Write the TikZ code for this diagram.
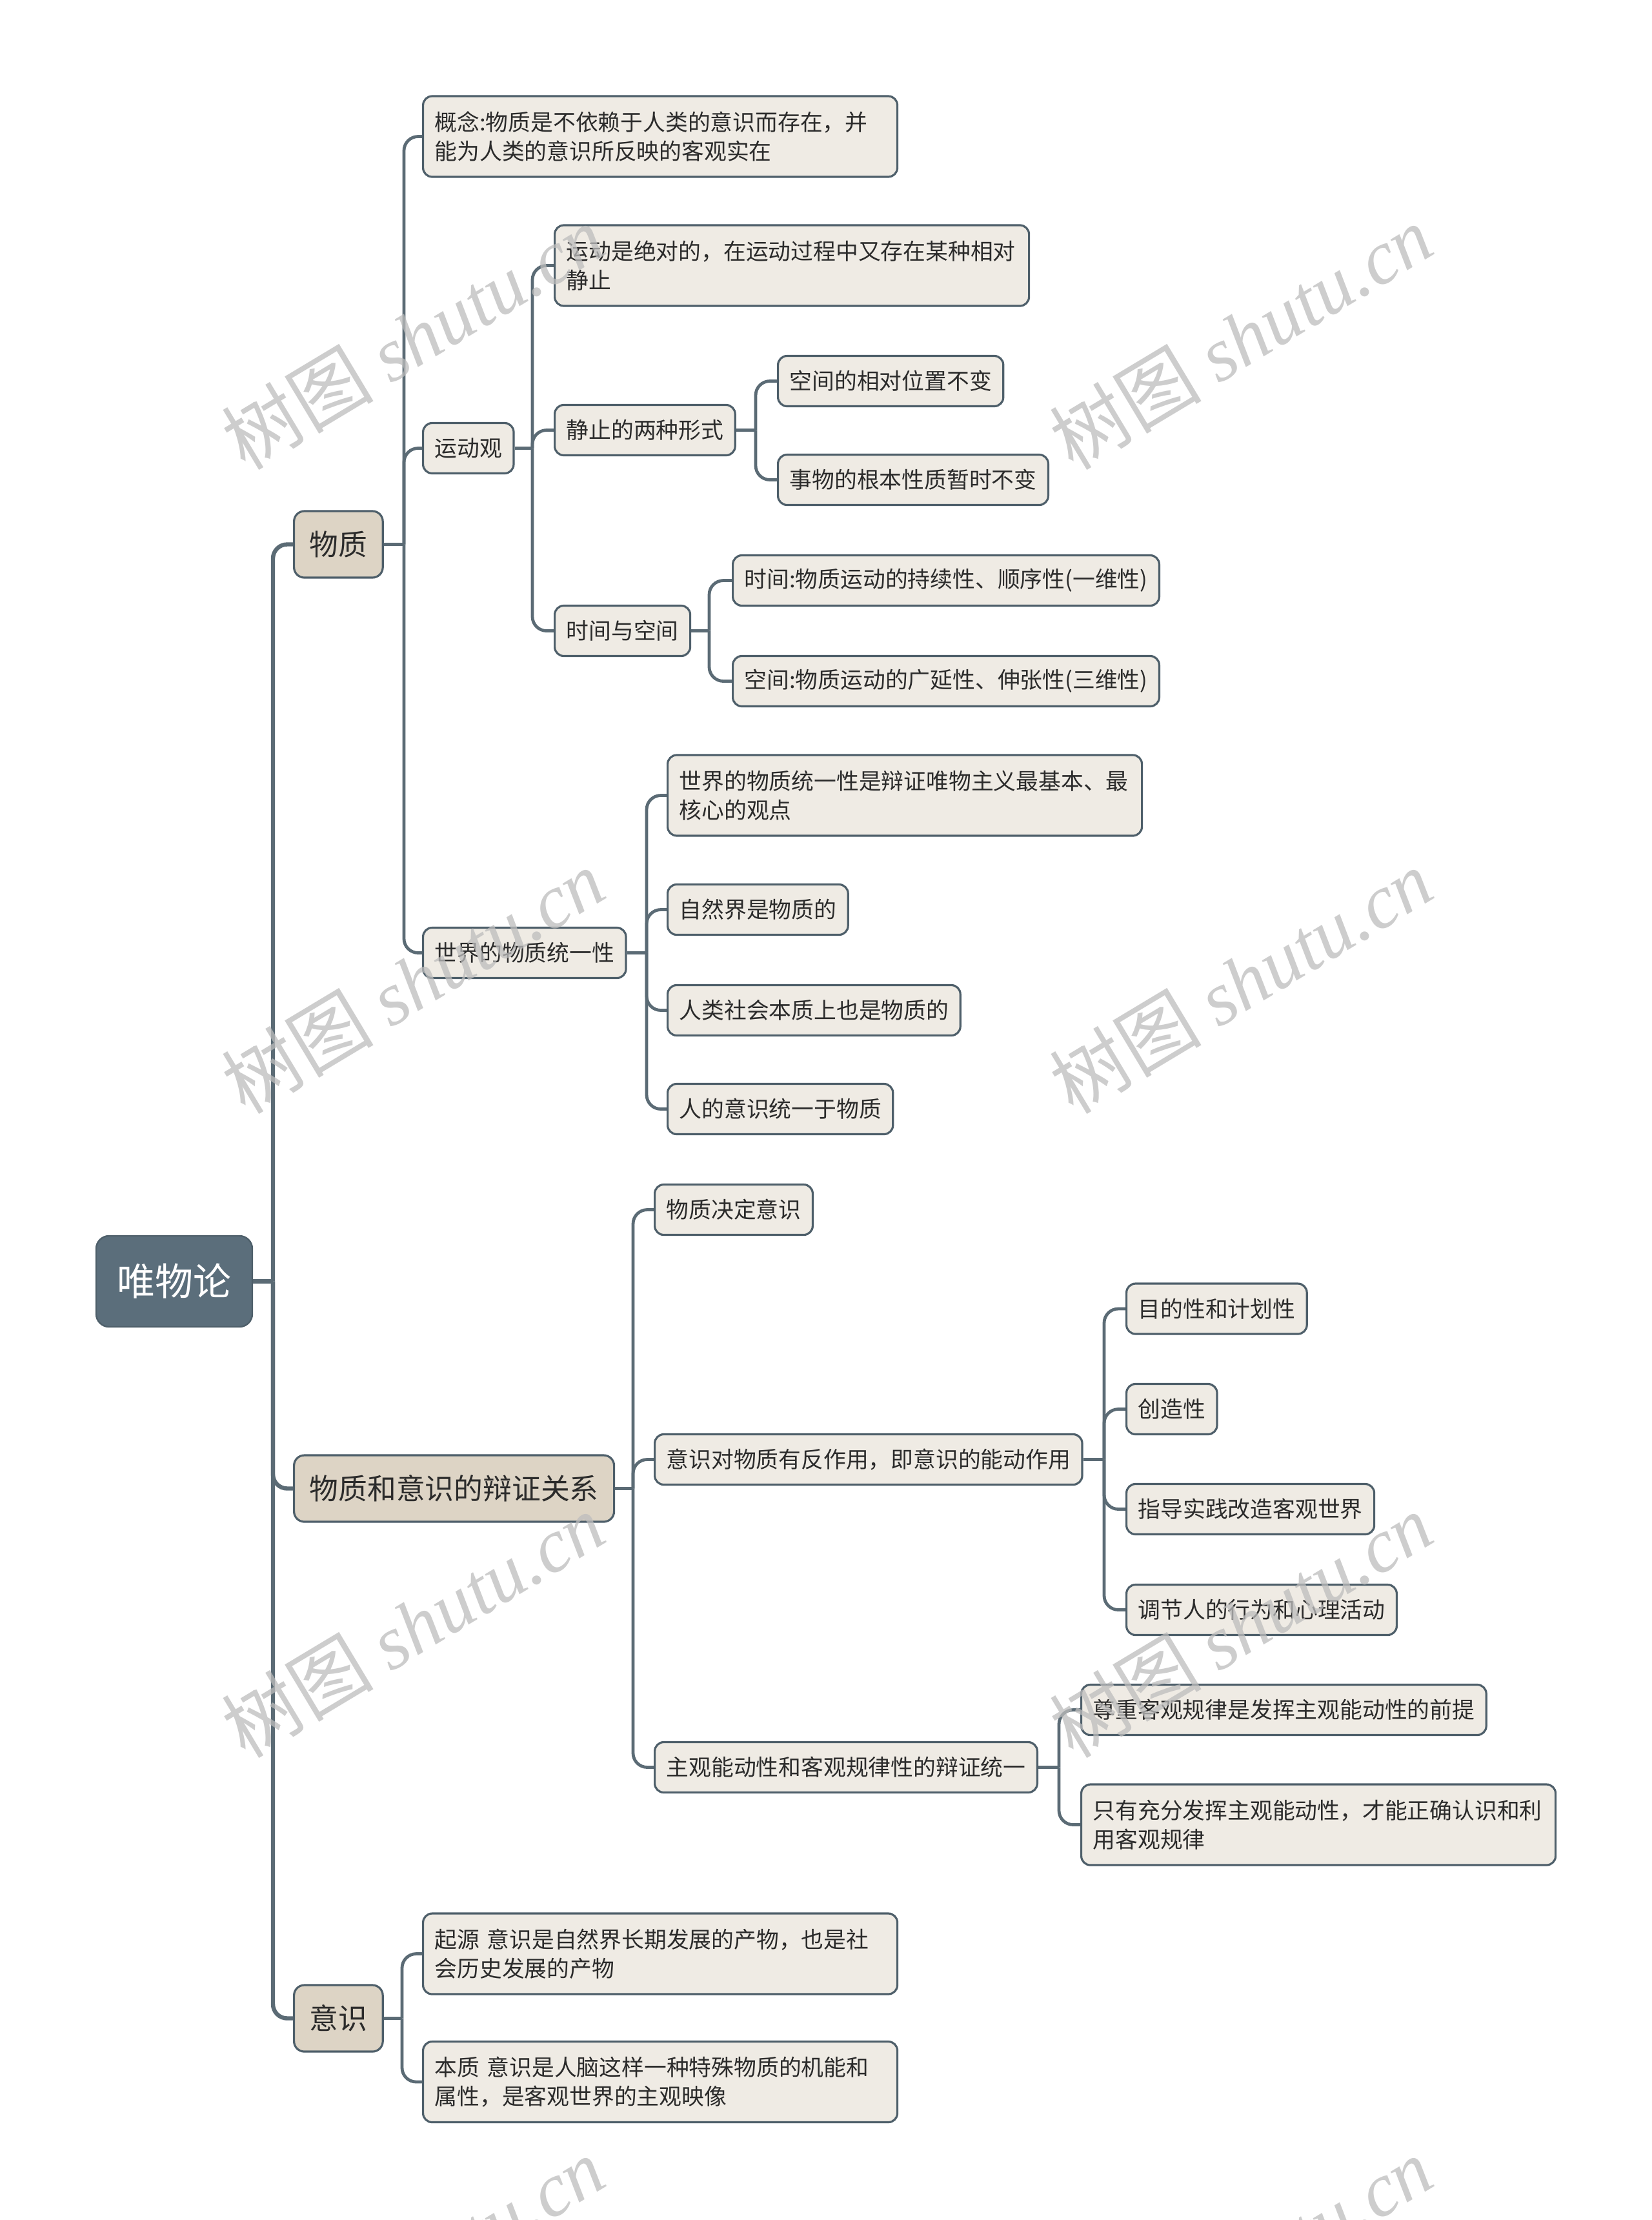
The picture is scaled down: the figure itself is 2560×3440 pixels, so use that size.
\documentclass[tikz,border=0pt]{standalone}
\usepackage{fontspec}
\setmainfont{Noto Sans CJK SC}
\newfontfamily\wmlatin{Liberation Serif}
\usetikzlibrary{backgrounds}
\definecolor{linec}{HTML}{5B6B75}
\definecolor{bordc}{HTML}{4E5F6A}
\definecolor{rootc}{HTML}{5B6E7B}
\definecolor{tanc}{HTML}{DDD4C5}
\definecolor{lightc}{HTML}{EFEBE4}
\definecolor{textc}{HTML}{2B2B2B}
\definecolor{wmc}{HTML}{BDBDBD}
\begin{document}
\begin{tikzpicture}[x=0.25pt,y=-0.25pt,
 rootbox/.style={draw=bordc, fill=rootc, line width=0.6pt, rounded corners=5pt, minimum width=60.5pt, minimum height=35.25pt, text=white, font=\fontsize{14.75pt}{18pt}\selectfont, inner sep=0pt},
 lvone/.style={draw=bordc, fill=tanc, line width=0.8pt, rounded corners=4pt, minimum height=25.75pt, inner xsep=6pt, inner ysep=0pt, text=textc, font=\fontsize{11.2pt}{14pt}\selectfont, anchor=west},
 leaf/.style={draw=bordc, fill=lightc, line width=0.8pt, rounded corners=3.5pt, minimum height=19.5pt, inner xsep=4.5pt, inner ysep=0pt, text=textc, font=\fontsize{8.7pt}{11.25pt}\selectfont, anchor=west, align=left},
 twoline/.style={leaf, minimum height=31.25pt, text width=174.75pt},
 conn/.style={draw=linec, line width=1.2pt, rounded corners=5.5pt},
 trunk/.style={conn, line width=1.6pt},
 wm/.style={text=wmc, text opacity=0.75, rotate=31, font=\fontsize{29.5pt}{32pt}\selectfont, inner sep=0pt}
]
\useasboundingbox (0,0) rectangle (2560,3440);

% root
\node[rootbox] (root) at (270,1985.5) {唯物论};

% level 1
\node[lvone] (wz) at (454,843.5) {物质};
\node[lvone] (bz) at (454,2306.5) {物质和意识的辩证关系};
\node[lvone] (ys) at (454,3127.5) {意识};

% under 物质
\node[twoline] (gn) at (654,211.5) {概念:物质是不依赖于人类的意识而存在，并\\能为人类的意识所反映的客观实在};
\node[leaf] (ydg) at (654,694.5) {运动观};
\node[leaf] (sjt) at (654,1476.5) {世界的物质统一性};

% under 运动观
\node[twoline] (ydj) at (858,411.5) {运动是绝对的，在运动过程中又存在某种相对\\静止};
\node[leaf] (jz) at (858,666.5) {静止的两种形式};
\node[leaf] (sk) at (858,977.5) {时间与空间};

\node[leaf] (kja) at (1204,590.5) {空间的相对位置不变};
\node[leaf] (sw) at (1204,743.5) {事物的根本性质暂时不变};
\node[leaf] (sj) at (1134,899.5) {时间:物质运动的持续性、顺序性(一维性)};
\node[leaf] (kjb) at (1134,1055.5) {空间:物质运动的广延性、伸张性(三维性)};

% under 世界的物质统一性
\node[twoline] (sa) at (1033,1232.5) {世界的物质统一性是辩证唯物主义最基本、最\\核心的观点};
\node[leaf] (sb) at (1033,1409.5) {自然界是物质的};
\node[leaf] (sc) at (1033,1565.5) {人类社会本质上也是物质的};
\node[leaf] (sd) at (1033,1718.5) {人的意识统一于物质};

% under 辩证关系
\node[leaf] (da) at (1013,1874.5) {物质决定意识};
\node[leaf] (db) at (1013,2261.5) {意识对物质有反作用，即意识的能动作用};
\node[leaf] (dc) at (1013,2738.5) {主观能动性和客观规律性的辩证统一};

\node[leaf] (na) at (1744,2028) {目的性和计划性};
\node[leaf] (nb) at (1744,2183.5) {创造性};
\node[leaf] (nc) at (1744,2338.5) {指导实践改造客观世界};
\node[leaf] (nd) at (1744,2494.5) {调节人的行为和心理活动};

\node[leaf] (za) at (1674,2649.5) {尊重客观规律是发挥主观能动性的前提};
\node[twoline] (zb) at (1674,2827.5) {只有充分发挥主观能动性，才能正确认识和利\\用客观规律};

% under 意识
\node[twoline] (ya) at (654,3027.5) {起源 意识是自然界长期发展的产物，也是社\\会历史发展的产物};
\node[twoline] (yb) at (654,3226) {本质 意识是人脑这样一种特殊物质的机能和\\属性，是客观世界的主观映像};

% bracket x positions
\coordinate (bT) at (423,0);
\coordinate (bW) at (626,0);
\coordinate (bY) at (825,0);
\coordinate (bJ) at (1171,0);
\coordinate (bK) at (1099,0);
\coordinate (bS) at (1002,0);
\coordinate (bB) at (981,0);
\coordinate (bN) at (1711,0);
\coordinate (bZ) at (1641,0);
\coordinate (bI) at (623,0);

\begin{scope}[on background layer]
\fill[white] (0,0) rectangle (2560,3440);
\draw[trunk] (root.east) -- (root.east -| bT);
\foreach \c in {wz,bz,ys} \draw[trunk] (root.east -| bT) |- (\c.west);

\draw[conn] (wz.east) -- (wz.east -| bW);
\foreach \c in {gn,ydg,sjt} \draw[conn] (wz.east -| bW) |- (\c.west);

\draw[conn] (ydg.east) -- (ydg.east -| bY);
\foreach \c in {ydj,jz,sk} \draw[conn] (ydg.east -| bY) |- (\c.west);

\draw[conn] (jz.east) -- (jz.east -| bJ);
\foreach \c in {kja,sw} \draw[conn] (jz.east -| bJ) |- (\c.west);

\draw[conn] (sk.east) -- (sk.east -| bK);
\foreach \c in {sj,kjb} \draw[conn] (sk.east -| bK) |- (\c.west);

\draw[conn] (sjt.east) -- (sjt.east -| bS);
\foreach \c in {sa,sb,sc,sd} \draw[conn] (sjt.east -| bS) |- (\c.west);

\draw[conn] (bz.east) -- (bz.east -| bB);
\foreach \c in {da,db,dc} \draw[conn] (bz.east -| bB) |- (\c.west);

\draw[conn] (db.east) -- (db.east -| bN);
\foreach \c in {na,nb,nc,nd} \draw[conn] (db.east -| bN) |- (\c.west);

\draw[conn] (dc.east) -- (dc.east -| bZ);
\foreach \c in {za,zb} \draw[conn] (dc.east -| bZ) |- (\c.west);

\draw[conn] (ys.east) -- (ys.east -| bI);
\foreach \c in {ya,yb} \draw[conn] (ys.east -| bI) |- (\c.west);
\end{scope}

% watermarks
\foreach \wx/\wy [count=\i] in {640/522,1923/522,640/1520,1923/1520,640/2518,1923/2518,640/3516,1923/3516}
  \node[wm] (wm\i) at (\wx,\wy) {树图 {\wmlatin\itshape shutu.cn}};
\end{tikzpicture}
\end{document}
